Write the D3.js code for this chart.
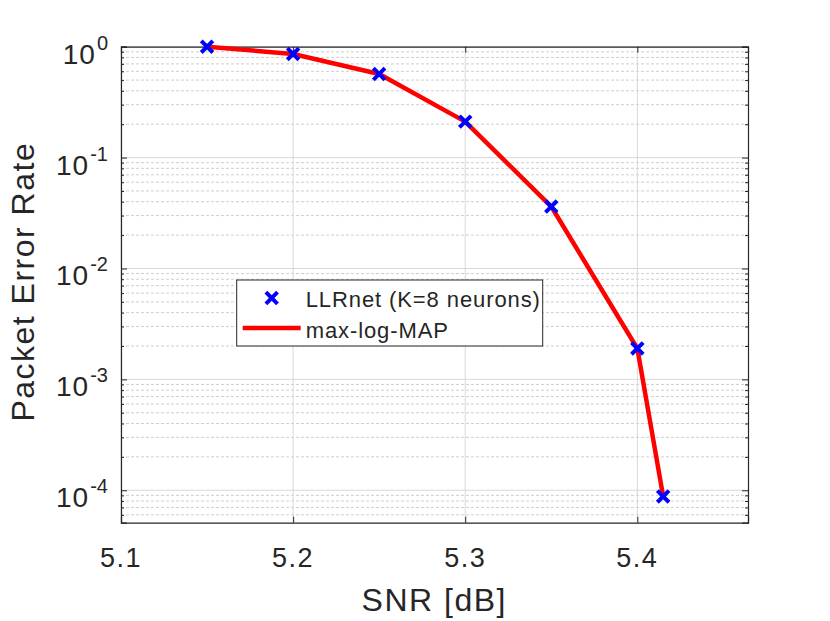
<!DOCTYPE html>
<html>
<head>
<meta charset="utf-8">
<script src="https://cdn.jsdelivr.net/npm/d3@7"></script>
<style>
  body { margin: 0; background: #fff; }
  text { font-family: "Liberation Sans", Arial, sans-serif; fill: #262626; }
</style>
</head>
<body>
<div id="chart"></div>
<script>
// SNR points and packet error rates
const snr = [5.15, 5.2, 5.25, 5.3, 5.35, 5.4, 5.415]
const perLLRnet = [1.0, 0.86, 0.567, 0.211, 0.0362, 0.0019, 0.000088]
const perMaxLogMap = [1.0, 0.86, 0.567, 0.211, 0.0362, 0.0019, 0.000088]
const xTicks = [5.1, 5.2, 5.3, 5.4]
const yTickExps = [0, -1, -2, -3, -4]
const seriesNames = ["LLRnet (K=8 neurons)", "max-log-MAP"]

const W = 830, H = 621
const margin = {top: 46.7, right: 82, bottom: 98.3, left: 121}
const w = W - margin.left - margin.right,
      h = H - margin.top - margin.bottom

const svg = d3.select("#chart")
    .append("svg")
    .attr("width", W)
    .attr("height", H)

const g = svg.append("g")
    .attr("transform", `translate(${margin.left},${margin.top})`)

const x = d3.scaleLinear()
    .domain([5.1, 5.4643])
    .range([0, w])

const y = d3.scaleLog()
    .domain([5.1e-5, 1])
    .range([h, 0])

// minor values for the log grid
const minor = []
for (let e = -5; e <= 0; e++) {
    for (let m = 2; m <= 9; m++) {
        const v = m * Math.pow(10, e)
        if (v >= y.domain()[0] && v <= y.domain()[1]) minor.push(v)
    }
}

// grid
g.append("g")
    .selectAll("line")
    .data(minor)
    .join("line")
    .attr("x1", 0).attr("x2", w)
    .attr("y1", d => y(d)).attr("y2", d => y(d))
    .style("stroke", "#cfcfcf")
    .style("stroke-width", 1)
    .style("stroke-dasharray", "3,2")

g.append("g")
    .selectAll("line")
    .data(yTickExps.map(e => Math.pow(10, e)))
    .join("line")
    .attr("x1", 0).attr("x2", w)
    .attr("y1", d => y(d)).attr("y2", d => y(d))
    .style("stroke", "#d8d8d8")
    .style("stroke-width", 1)

g.append("g")
    .selectAll("line")
    .data(xTicks)
    .join("line")
    .attr("x1", d => x(d)).attr("x2", d => x(d))
    .attr("y1", 0).attr("y2", h)
    .style("stroke", "#d8d8d8")
    .style("stroke-width", 1)

// axes, ticks pointing inward like MATLAB
const axColor = "#262626"
const xBottom = g.append("g")
    .attr("transform", `translate(0,${h})`)
    .call(d3.axisBottom(x).tickValues(xTicks).tickSize(-6).tickFormat(""))
const xTop = g.append("g")
    .call(d3.axisTop(x).tickValues(xTicks).tickSize(-6).tickFormat(""))
const yLeft = g.append("g")
    .call(d3.axisLeft(y).tickValues(yTickExps.map(e => Math.pow(10, e))).tickSize(-6).tickFormat(""))
const yRight = g.append("g")
    .attr("transform", `translate(${w},0)`)
    .call(d3.axisRight(y).tickValues(yTickExps.map(e => Math.pow(10, e))).tickSize(-6).tickFormat(""))
const yLeftMinor = g.append("g")
    .call(d3.axisLeft(y).tickValues(minor).tickSize(-3).tickFormat(""))
const yRightMinor = g.append("g")
    .attr("transform", `translate(${w},0)`)
    .call(d3.axisRight(y).tickValues(minor).tickSize(-3).tickFormat(""))

;[xBottom, xTop, yLeft, yRight, yLeftMinor, yRightMinor].forEach(a => {
    a.selectAll("path").style("stroke", axColor).style("stroke-width", 1.2)
    a.selectAll("line").style("stroke", axColor).style("stroke-width", 1)
})
yLeftMinor.select("path").remove()
yRightMinor.select("path").remove()

// x tick labels
g.append("g")
    .selectAll("text")
    .data(xTicks)
    .join("text")
    .attr("x", d => x(d))
    .attr("y", h + 44.5)
    .attr("text-anchor", "middle")
    .style("font-size", "27px")
    .style("letter-spacing", "1.5px")
    .text(d => d3.format(".1f")(d))

// y tick labels as 10^e
const yLab = g.append("g")
    .selectAll("text")
    .data(yTickExps)
    .join("text")
    .attr("x", -13)
    .attr("y", d => y(Math.pow(10, d)) + 17)
    .attr("text-anchor", "end")
    .style("font-size", "28px")
yLab.append("tspan").text("10").style("letter-spacing", "1px")
yLab.append("tspan")
    .attr("dy", -14)
    .attr("dx", 1)
    .style("font-size", "20px")
    .text(d => d)

// axis titles
svg.append("text")
    .attr("x", margin.left + x(5.3) - 31)
    .attr("y", 611)
    .attr("text-anchor", "middle")
    .style("font-size", "32px")
    .style("letter-spacing", "1.5px")
    .text("SNR [dB]")

svg.append("text")
    .attr("transform", `translate(34,${margin.top + h / 2 - 3}) rotate(-90)`)
    .attr("text-anchor", "middle")
    .style("font-size", "32px")
    .style("letter-spacing", "1.5px")
    .text("Packet Error Rate")

// red curve
const line = d3.line()
    .x(d => x(d[0]))
    .y(d => y(d[1]))

g.append("path")
    .datum(snr.map((s, i) => [s, perMaxLogMap[i]]))
    .attr("d", line)
    .style("fill", "none")
    .style("stroke", "#ff0000")
    .style("stroke-width", 4.5)
    .style("stroke-linejoin", "round")

// blue x markers
const cross = d3.symbol().type(d3.symbolTimes).size(90)
g.append("g")
    .selectAll("path")
    .data(snr.map((s, i) => [s, perLLRnet[i]]))
    .join("path")
    .attr("transform", d => `translate(${x(d[0])},${y(d[1])})`)
    .attr("d", cross)
    .style("fill", "none")
    .style("stroke", "#0000ff")
    .style("stroke-width", 4)

// legend
const leg = svg.append("g")
    .attr("transform", "translate(236.7,280)")

leg.append("rect")
    .attr("width", 306)
    .attr("height", 66)
    .style("fill", "#fff")
    .style("stroke", axColor)
    .style("stroke-width", 1)

leg.append("path")
    .attr("transform", "translate(35,18)")
    .attr("d", cross)
    .style("fill", "none")
    .style("stroke", "#0000ff")
    .style("stroke-width", 4)

leg.append("line")
    .attr("x1", 6).attr("x2", 64)
    .attr("y1", 48).attr("y2", 48)
    .style("stroke", "#ff0000")
    .style("stroke-width", 4.5)

leg.selectAll("text.lbl")
    .data(seriesNames)
    .join("text")
    .attr("class", "lbl")
    .attr("x", 69)
    .attr("y", (d, i) => 27 + i * 31)
    .style("font-size", "22px")
    .style("letter-spacing", "0.9px")
    .text(d => d)
</script>
</body>
</html>
